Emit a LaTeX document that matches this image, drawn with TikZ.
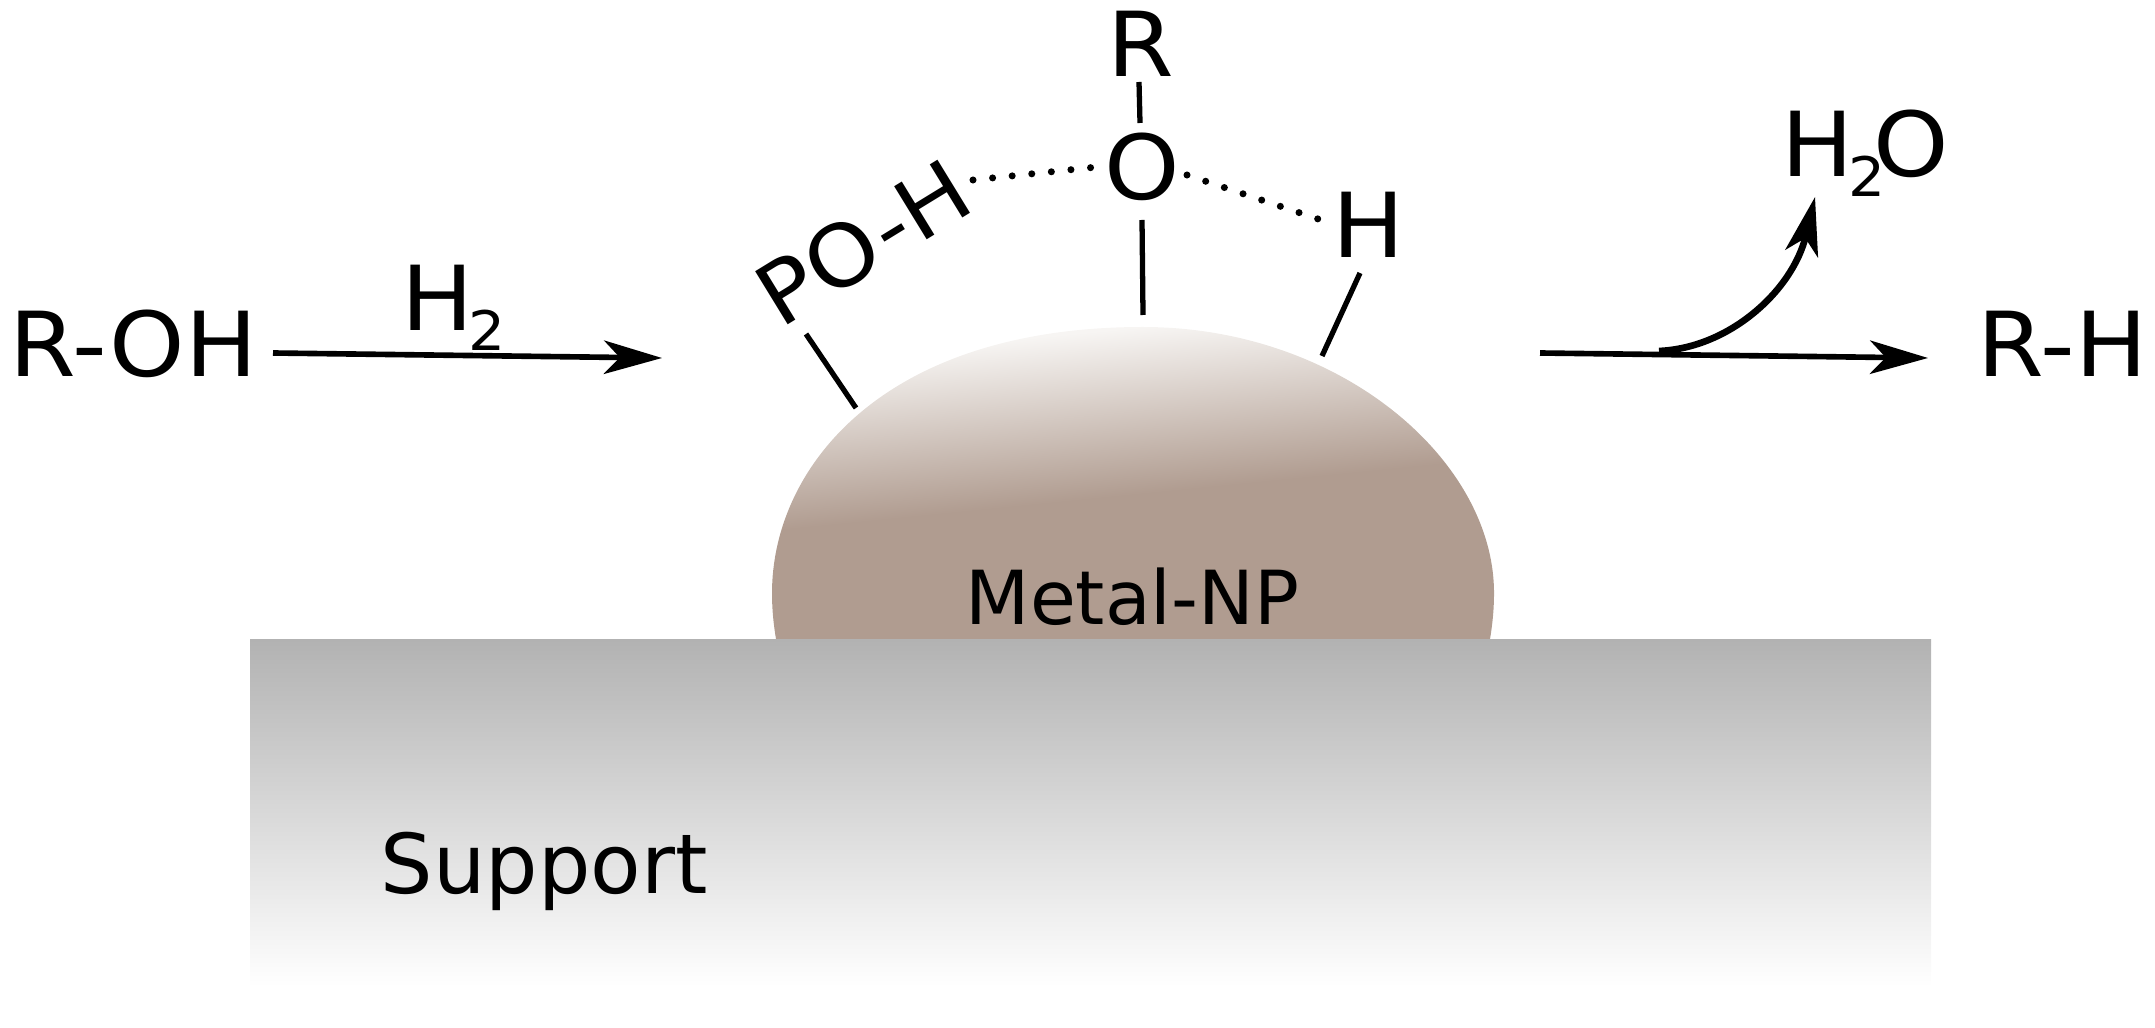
\documentclass[tikz,border=0pt]{standalone}
\usepackage{fontspec}
\setmainfont{DejaVu Sans}
\newfontfamily\chemfont[FakeStretch=1.07]{DejaVu Sans}
\usetikzlibrary{arrows.meta}
\definecolor{npdark}{HTML}{B09C90}
\definecolor{nplight}{HTML}{F7F5F3}
\definecolor{supportgray}{HTML}{B2B2B2}
\pgfdeclareverticalshading{npshade}{100bp}{color(0bp)=(npdark); color(50.6bp)=(npdark); color(71.4bp)=(nplight); color(100bp)=(nplight)}
\newcommand{\subtwo}{\kern-1.5pt\raisebox{-.22em}{\fontsize{15.5}{18}\selectfont 2}}
\tikzset{
  chem/.style={anchor=base west,inner sep=0pt,font=\chemfont\fontsize{25.5}{30}\selectfont},
  tag/.style={anchor=base west,inner sep=0pt},
  bond/.style={line width=1.5pt},
  hbond/.style={line width=2pt,line cap=round,dash pattern=on 0pt off 5.6pt},
  flow/.style={line width=1.6pt,-{Stealth[length=16.5pt,width=9.5pt,inset=4.5pt]}}
}
\begin{document}
\begin{tikzpicture}[x=.01cm,y=-.01cm]
    \useasboundingbox (0,0) rectangle (2155,1028);
    % particle
    \begin{scope}
    \clip (772,593) .. controls (772,470) and (880,327) .. (1143,327)
        .. controls (1340,327) and (1494,460) .. (1494,593)
        .. controls (1494,612) and (1492,628) .. (1489,645) -- (777,645)
        .. controls (774,628) and (772,612) .. (772,593);
    \begin{scope}[transform canvas={rotate around={5.7:(1133,593)}}]
    \shade[shading=npshade] (600,300) rectangle (1660,700);
    \end{scope}
    \end{scope}
    \shade[top color=supportgray,bottom color=white] (250,639) rectangle (1931,987);
    \node[tag,font=\fontsize{21.2}{26}\selectfont] (metal) at (965,624) {Metal-NP};
    \node[tag,font=\fontsize{23.5}{28}\selectfont] (support) at (380,893) {Support};
    % species
    \node[chem] (roh) at (9,377) {R-OH};
    \node[chem] (hh) at (401,331) {H\subtwo};
    \node[chem] (rh) at (1977,377) {R-H};
    \node[chem] (water) at (1781,177) {H\subtwo\kern-3.5pt O};
    \node[chem,font=\chemfont\fontsize{24.3}{30}\selectfont] (poh) at (780,330) [rotate=31.5] {PO-H};
    \node[chem] (oxy) at (1104,200) {O};
    \node[chem] (rgroup) at (1107,77) {R};
    \node[chem] (hyd) at (1332,258) {H};
    % free ends
    \coordinate (rohend) at (273,353);
    \coordinate (rohtip) at (662,358);
    \coordinate (rhend) at (1540,353);
    \coordinate (rhtip) at (1928,358);
    \coordinate (fork) at (1659,351);
    \coordinate (watertip) at (1815,197);
    \coordinate (potop) at (806,334);
    \coordinate (pofoot) at (856,408);
    \coordinate (otop) at (1142,220);
    \coordinate (ofoot) at (1143,315);
    \coordinate (htop) at (1360,273);
    \coordinate (hfoot) at (1322,356);
    \coordinate (rfoot) at (1139,82);
    \coordinate (ohead) at (1140,123);
    \coordinate (dota) at (973,180);
    \coordinate (dotb) at (1097,167);
    \coordinate (dotc) at (1187,175);
    \coordinate (dotd) at (1324,221);
    % arrows
    \draw[flow] (rohend) -- (rohtip);
    \draw[flow] (rhend) -- (rhtip);
    \draw[flow,line width=1.9pt] (fork) .. controls (1730,348) and (1793,290) .. (watertip);
    % bonds
    \draw[bond] (potop) -- (pofoot);
    \draw[bond] (otop) -- (ofoot);
    \draw[bond] (htop) -- (hfoot);
    \draw[bond] (rfoot) -- (ohead);
    \draw[hbond] (dota) -- (dotb);
    \draw[hbond] (dotc) -- (dotd);
\end{tikzpicture}
\end{document}
